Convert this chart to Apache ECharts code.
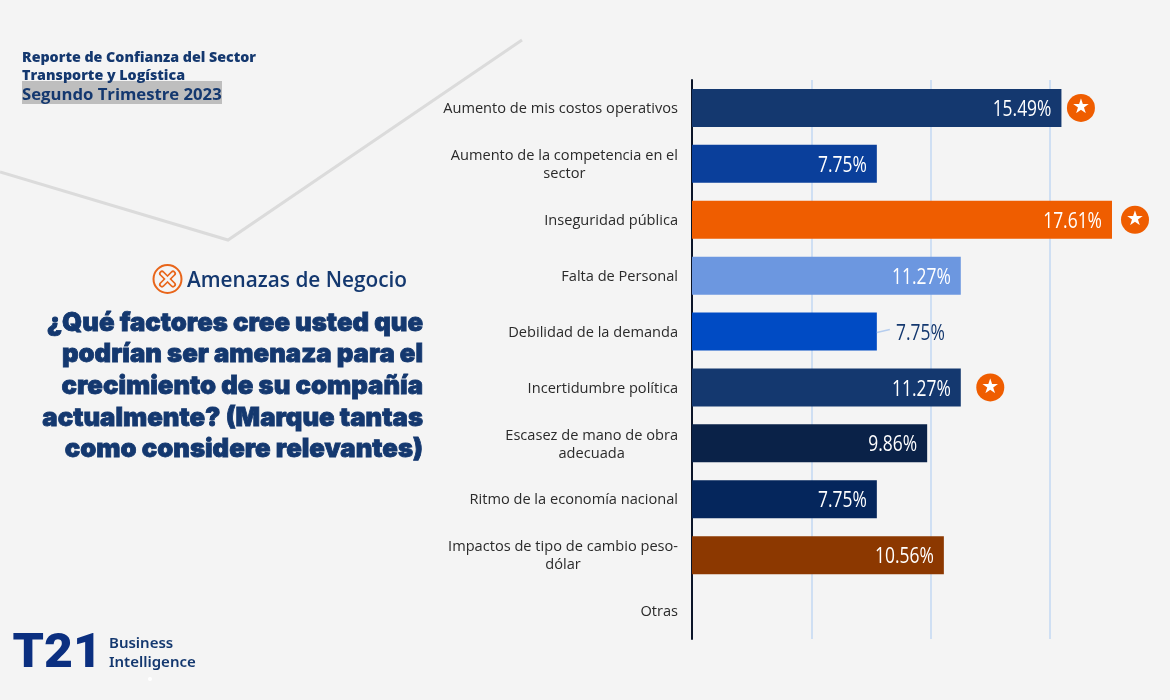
<!DOCTYPE html>
<html><head><meta charset="utf-8">
<style>html,body{margin:0;padding:0;background:#f4f4f4}#c{width:1170px;height:700px}</style>
<script src="https://cdn.jsdelivr.net/npm/echarts@6/dist/echarts.min.js"></script>
</head><body><div id="c"></div>
<script>
const categories = ["Aumento de mis costos operativos","Aumento de la competencia en el\nsector","Inseguridad pública","Falta de Personal","Debilidad de la demanda","Incertidumbre política","Escasez de mano de obra\nadecuada","Ritmo de la economía nacional","Impactos de tipo de cambio peso-\ndólar","Otras"];
const values = [15.49,7.75,17.61,11.27,7.75,11.27,9.86,7.75,10.56,null];
const starred = ["Aumento de mis costos operativos","Inseguridad pública","Incertidumbre política"];
const outsideLabel = ["Debilidad de la demanda"];
const barColors = ["#14386F","#0A3F9B","#EF5D00","#6C97E0","#004BC4","#14386F","#0A2248","#05265C","#8C3800","#14386F"];
const starGaps = [19.5,23,29.5];
const headerLines = ["Reporte de Confianza del Sector","Transporte y Logística"];
const periodLine = "Segundo Trimestre 2023";
const sectionTitle = "Amenazas de Negocio";
const questionLines = ["¿Qué factores cree usted que","podrían ser amenaza para el","crecimiento de su compañía","actualmente? (Marque tantas","como considere relevantes)"];

const NAVY = "#14386F", ORANGE = "#EF5D00", BG = "#F4F4F4";
const chart = echarts.init(document.getElementById('c'));
const gfx = [
  {type:'polyline',z:0,shape:{points:[[0,172],[228,240],[522,40]]},style:{stroke:'#DBDBDB',lineWidth:3,fill:null}},
  {type:'rect',z:1,shape:{x:22,y:81,width:200,height:23},style:{fill:'#BEBEBE'}},
  {type:'text',z:2,style:{x:22,y:58,text:headerLines[0],font:'800 14.25px "Open Sans"',fill:NAVY,verticalAlign:'middle'}},
  {type:'text',z:2,style:{x:22,y:75.5,text:headerLines[1],font:'800 14.25px "Open Sans"',fill:NAVY,verticalAlign:'middle'}},
  {type:'text',z:2,style:{x:22,y:95,text:periodLine,font:'700 16.7px "Open Sans"',fill:NAVY,verticalAlign:'middle'}},
  {type:'circle',z:2,shape:{cx:167.5,cy:279,r:14},style:{fill:null,stroke:'#E8651A',lineWidth:2}},
  {type:'line',z:2,shape:{x1:162,y1:273.5,x2:173,y2:284.5},style:{stroke:'#E8651A',lineWidth:6,lineCap:'round'}},
  {type:'line',z:2,shape:{x1:173,y1:273.5,x2:162,y2:284.5},style:{stroke:'#E8651A',lineWidth:6,lineCap:'round'}},
  {type:'line',z:3,shape:{x1:162,y1:273.5,x2:173,y2:284.5},style:{stroke:BG,lineWidth:2.5,lineCap:'round'}},
  {type:'line',z:3,shape:{x1:173,y1:273.5,x2:162,y2:284.5},style:{stroke:BG,lineWidth:2.5,lineCap:'round'}},
  {type:'text',z:2,style:{x:187,y:281,text:sectionTitle,font:'600 20.8px "Open Sans"',fill:NAVY,verticalAlign:'middle'}},
  {type:'text',z:2,x:12.5,y:655,scaleX:1.04,style:{x:0,y:0,text:'T21',font:'900 48px Roboto',fill:'#0B2F80',verticalAlign:'middle'}},
  {type:'text',z:2,style:{x:109,y:644,text:'Business',font:'600 15px "Noto Sans"',fill:NAVY,verticalAlign:'middle'}},
  {type:'text',z:2,style:{x:109,y:663,text:'Intelligence',font:'600 15px "Noto Sans"',fill:NAVY,verticalAlign:'middle'}},
  {type:'circle',z:2,shape:{cx:150,cy:679,r:2},style:{fill:'#FFFFFF'}}
];
questionLines.forEach((t,i)=>gfx.push({type:'text',z:2,style:{x:423,y:323+i*31.6,text:t,font:'900 25.7px Inter',fill:NAVY,stroke:NAVY,lineWidth:0.8,align:'right',verticalAlign:'middle'}}));

const LABEL_SCALE = 0.81;
function renderValueLabel(params, api){
  const v = api.value(0), idx = api.value(1);
  const p = api.coord([v, idx]);
  const outside = outsideLabel.includes(categories[idx]);
  const right = outside ? p[0] + 68 : p[0] - 10;
  const text = {type:'text', x:right, y:p[1]+2, scaleX:LABEL_SCALE,
    style:{x:0,y:0,text:v.toFixed(2)+'%',align:'right',verticalAlign:'middle',
      font:'400 21.5px "Open Sans"',fill:outside?NAVY:'#FFFFFF'}};
  if(!outside) return text;
  return {type:'group',children:[text,
    {type:'line',shape:{x1:p[0],y1:p[1]+1,x2:p[0]+13,y2:p[1]-2},style:{stroke:'#B5CDEE',lineWidth:1.5}}]};
}

chart.setOption({
  animation:false,
  backgroundColor:BG,
  grid:{left:692,top:80,width:477,height:559,containLabel:false},
  xAxis:{type:'value',min:0,max:20,interval:5,axisLabel:{show:false},axisLine:{show:false},axisTick:{show:false},
    splitLine:{show:true,showMaxLine:false,lineStyle:{color:'#CFDFF3',width:2}}},
  yAxis:{type:'category',inverse:true,data:categories,
    axisLine:{show:true,onZero:false,lineStyle:{color:'#0B1428',width:2}},axisTick:{show:false},
    axisLabel:{margin:14,align:'right',lineHeight:18,
      formatter:v=>v.split('\n').map(l=>'{a|'+l+'}').join('\n'),
      rich:{a:{fontSize:14.6,fontFamily:'Open Sans',color:'#2A2A2A',align:'center',lineHeight:18,padding:[2,0,0,0]}}}},
  series:[
    {type:'bar',barWidth:38,z:2,silent:true,
      data:values.map((v,i)=>({value:v,itemStyle:{color:barColors[i]}}))},
    {type:'custom',z:4,silent:true,coordinateSystem:'cartesian2d',renderItem:renderValueLabel,
      encode:{x:0,y:1},
      data:values.map((v,i)=>v==null?null:[v,i]).filter(Boolean)},
    {type:'scatter',z:3,symbol:'circle',symbolSize:28,silent:true,
      itemStyle:{color:ORANGE,opacity:1},
      data:starred.map((c,k)=>({value:[values[categories.indexOf(c)],c],symbolOffset:[starGaps[k],0]})),
      label:{show:true,position:'inside',color:'#fff',fontSize:20,fontFamily:'DejaVu Sans',formatter:()=>'★'}}
  ],
  graphic:gfx
});
</script></body></html>
